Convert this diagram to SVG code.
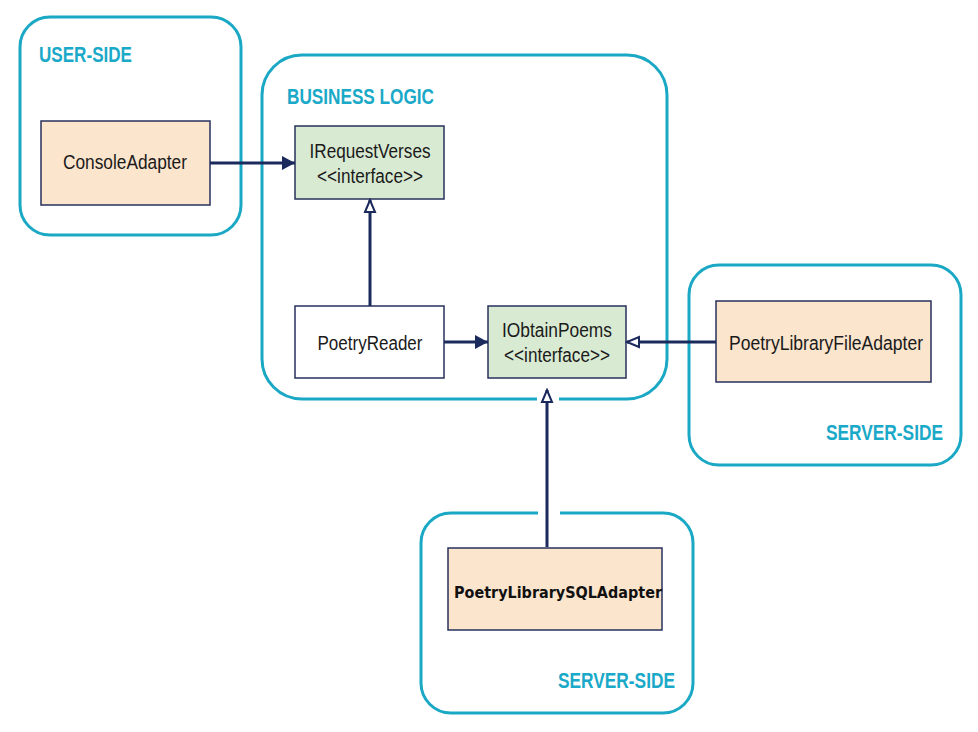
<svg xmlns="http://www.w3.org/2000/svg" width="978" height="732" viewBox="0 0 978 732">
<style>
.zone{fill:none;stroke:#1aa8c4;stroke-width:3}
.zlabel{font-family:"Liberation Sans",Arial,sans-serif;font-weight:bold;fill:#1aa9c8;font-size:22px}
.box{stroke:#27315c;stroke-width:1.5}
.adapter{fill:#fbe5cd}
.iface{fill:#d9ead3}
.plain{fill:#ffffff}
.t{font-family:"Liberation Sans",Arial,sans-serif;font-size:19.5px;fill:#1a1a1a;text-anchor:middle}
.conn{stroke:#1b2a5c;stroke-width:3;fill:none}
</style>
<defs>
<marker id="filled" markerUnits="userSpaceOnUse" markerWidth="16" markerHeight="16" refX="14" refY="8" orient="auto">
<path d="M1,1 L14,8 L1,15 z" fill="#1b2a5c"/>
</marker>
<marker id="hollow" markerUnits="userSpaceOnUse" markerWidth="16" markerHeight="16" refX="14" refY="8" orient="auto">
<path d="M2,3 L14,8 L2,13 z" fill="#ffffff" stroke="#1b2a5c" stroke-width="2"/>
</marker>
</defs>
<rect width="978" height="732" fill="#ffffff"/>

<g id="user-side">
<rect class="zone" x="20" y="17" width="221" height="218" rx="30"/>
<text class="zlabel" x="39" y="62" textLength="93" lengthAdjust="spacingAndGlyphs">USER-SIDE</text>
</g>
<g id="business-logic">
<rect class="zone" x="262" y="55" width="405" height="344" rx="40"/>
<text class="zlabel" x="287" y="104" textLength="147" lengthAdjust="spacingAndGlyphs">BUSINESS LOGIC</text>
</g>
<g id="server-side-file">
<rect class="zone" x="689" y="265" width="272" height="200" rx="30"/>
<text class="zlabel" x="826" y="440" textLength="117" lengthAdjust="spacingAndGlyphs">SERVER-SIDE</text>
</g>
<g id="server-side-sql">
<rect class="zone" x="421" y="513" width="272" height="200" rx="30"/>
<text class="zlabel" x="558" y="688" textLength="117" lengthAdjust="spacingAndGlyphs">SERVER-SIDE</text>
</g>

<g id="ConsoleAdapter">
<rect class="box adapter" x="41" y="121" width="169" height="84"/>
<text class="t" x="125" y="169" textLength="124" lengthAdjust="spacingAndGlyphs">ConsoleAdapter</text>
</g>
<g id="IRequestVerses">
<rect class="box iface" x="295" y="126" width="149" height="73"/>
<text class="t" x="370" y="158" textLength="121" lengthAdjust="spacingAndGlyphs">IRequestVerses</text>
<text class="t" x="370" y="183" textLength="106" lengthAdjust="spacingAndGlyphs">&lt;&lt;interface&gt;&gt;</text>
</g>
<g id="PoetryReader">
<rect class="box plain" x="295" y="306" width="149" height="72"/>
<text class="t" x="370" y="350" textLength="105" lengthAdjust="spacingAndGlyphs">PoetryReader</text>
</g>
<g id="IObtainPoems">
<rect class="box iface" x="488" y="306" width="138" height="72"/>
<text class="t" x="557" y="337" textLength="110" lengthAdjust="spacingAndGlyphs">IObtainPoems</text>
<text class="t" x="557" y="362" textLength="106" lengthAdjust="spacingAndGlyphs">&lt;&lt;interface&gt;&gt;</text>
</g>
<g id="PoetryLibraryFileAdapter">
<rect class="box adapter" x="716" y="301" width="215" height="81"/>
<text class="t" x="826" y="350" textLength="194" lengthAdjust="spacingAndGlyphs">PoetryLibraryFileAdapter</text>
</g>
<g id="PoetryLibrarySQLAdapter">
<rect class="box adapter" x="448" y="548" width="214" height="82"/>
<text x="558" y="598" font-family="'DejaVu Sans',Verdana,sans-serif" font-weight="bold" font-size="16.5px" fill="#111111" text-anchor="middle" textLength="208" lengthAdjust="spacingAndGlyphs">PoetryLibrarySQLAdapter</text>
</g>

<g id="connectors">
<rect x="537" y="380" width="22" height="24" fill="#ffffff"/>
<rect x="538" y="508" width="22" height="10" fill="#ffffff"/>
<line class="conn" x1="210" y1="163" x2="295" y2="163" marker-end="url(#filled)"/>
<line class="conn" x1="370" y1="306" x2="370" y2="200" marker-end="url(#hollow)"/>
<line class="conn" x1="444" y1="342" x2="488" y2="342" marker-end="url(#filled)"/>
<line class="conn" x1="716" y1="342" x2="627" y2="342" marker-end="url(#hollow)"/>
<line class="conn" x1="547" y1="547" x2="547" y2="390" marker-end="url(#hollow)"/>
</g>
</svg>
